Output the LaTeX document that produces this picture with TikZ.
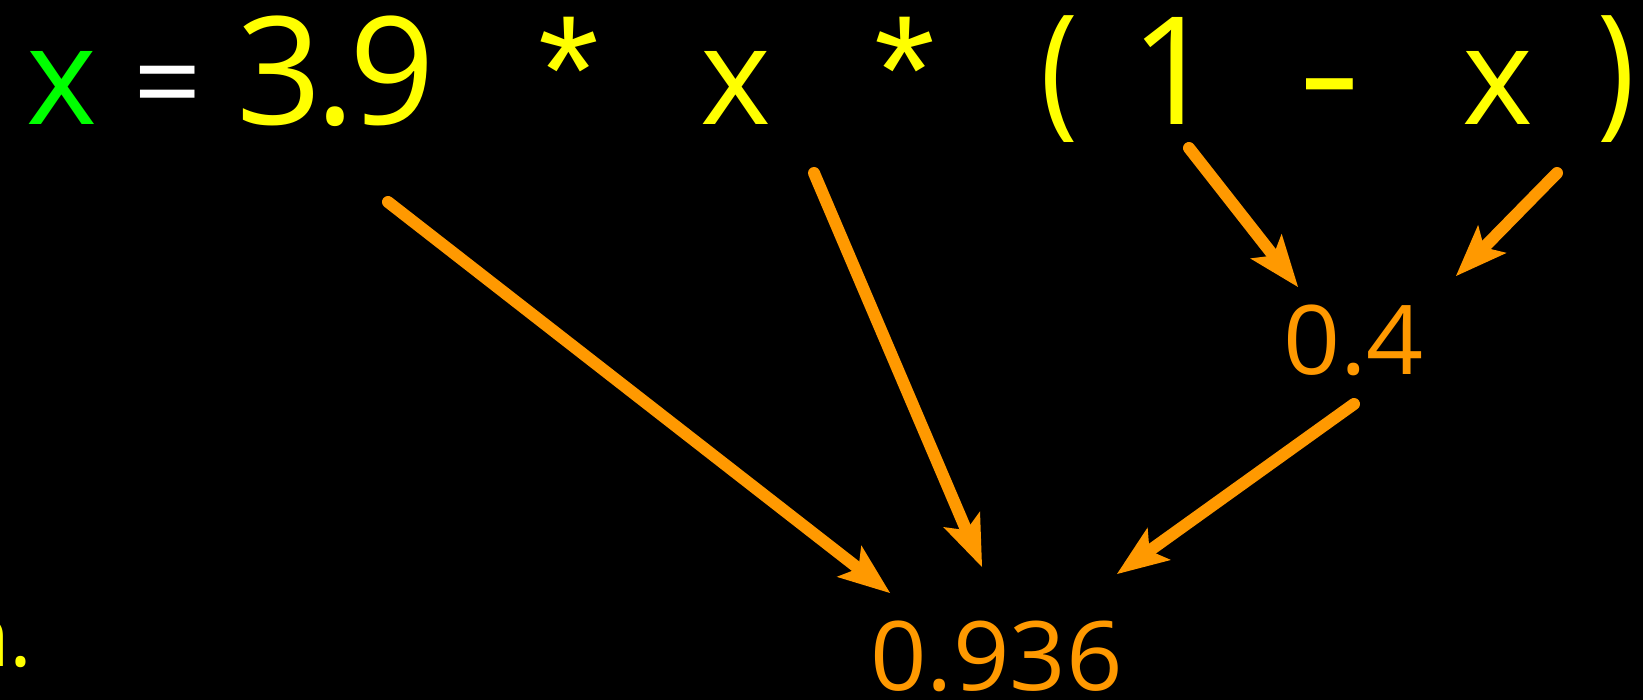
\documentclass[tikz,border=0pt]{standalone}
\usepackage{fontspec}
\setmainfont{Open Sans}
\newfontfamily\astfont{Liberation Sans}
\usepackage{graphicx}
\usetikzlibrary{arrows.meta}
\definecolor{oran}{RGB}{255,153,0}
\definecolor{yel}{RGB}{255,255,0}
\definecolor{grn}{RGB}{0,255,0}
\newcommand{\gl}[3]{\scalebox{#1}[#2]{#3}}
\begin{document}
\begin{tikzpicture}[x=1pt,y=-1pt,
  tok/.style={inner sep=0pt, anchor=base, text=yel, font=\fontsize{150}{150}\selectfont},
  ast/.style={inner sep=0pt, anchor=base, text=yel, font=\astfont\fontsize{156}{156}\selectfont},
  par/.style={inner sep=0pt, anchor=center, text=yel, font=\fontsize{150}{150}\selectfont},
  res/.style={inner sep=0pt, anchor=base, text=oran, font=\fontsize{96}{96}\selectfont},
  flow/.style={draw=oran, line width=12pt, line cap=round,
    -{Stealth[length=52pt,width=40pt,inset=12pt,line width=0pt]}}]
\fill[black] (0,0) rectangle (1643,700);
\useasboundingbox (0,0) rectangle (1643,700);
\clip (0,0) rectangle (1643,700);
% top expression
\node[tok, text=grn] (xl) at (61.5,125) {\gl{0.9}{0.91}{x}};
\node[tok, text=white] (eq) at (168,125) {\gl{0.8}{0.8}{=}};
\node[tok] (d3) at (279,125) {3};
\node[tok] (dot) at (335.5,125) {.};
\node[tok] (d9) at (392.5,125) {9};
\node[ast] (m1) at (568.5,125) {*};
\node[tok] (x1) at (736,125) {\gl{0.9}{0.91}{x}};
\node[ast] (m2) at (905,125) {*};
\node[par] (lp) at (1059.5,79.5) {\gl{0.85}{0.97}{(}};
\node[tok] (one) at (1173,125) {1};
\node[tok] (minus) at (1329.5,125) {\gl{1.3}{1}{-}};
\node[tok] (x2) at (1498,125) {\gl{0.9}{0.91}{x}};
\node[par] (rp) at (1616.5,79.5) {\gl{0.85}{0.97}{)}};
% results
\node[res] (r1) at (1353.5,374) {\gl{1.04}{1}{0.4}};
\node[res] (r2) at (996.5,690) {\gl{1.03}{1}{0.936}};
% clipped text at left
\node[inner sep=0pt, anchor=base east, text=yel, font=\fontsize{86}{86}\selectfont] (tail) at (33,666) {n.};
% arrow ends
\coordinate (s1) at (388,202);
\coordinate (t1) at (890,593);
\coordinate (s2) at (814,173);
\coordinate (t2) at (982,567);
\coordinate (s3) at (1189,148);
\coordinate (t3) at (1298,287);
\coordinate (s4) at (1557,173);
\coordinate (t4) at (1456,276);
\coordinate (s5) at (1354,404);
\coordinate (t5) at (1117,574);
\draw[flow] (s1) -- (t1);
\draw[flow] (s2) -- (t2);
\draw[flow] (s3) -- (t3);
\draw[flow] (s4) -- (t4);
\draw[flow] (s5) -- (t5);
\end{tikzpicture}
\end{document}
